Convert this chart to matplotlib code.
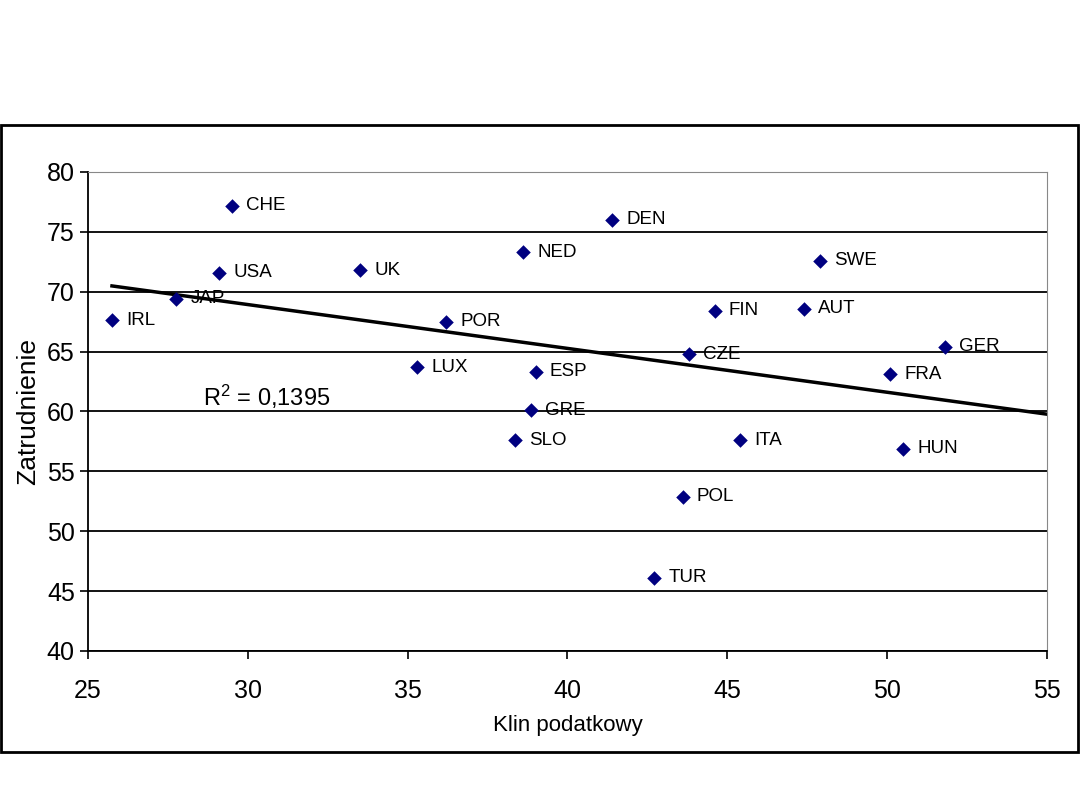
import numpy as np
import matplotlib.pyplot as plt
from matplotlib.patches import Rectangle

plt.rcParams['font.family'] = ['Liberation Sans', 'DejaVu Sans']

# country codes, tax wedge (x) and employment rate (y)
countries = ['CHE', 'USA', 'JAP', 'IRL', 'UK', 'POR', 'LUX', 'NED', 'DEN', 'ESP', 'GRE',
             'SLO', 'FIN', 'CZE', 'AUT', 'SWE', 'GER', 'FRA', 'HUN', 'ITA', 'POL', 'TUR']
klin = [29.5, 29.1, 27.75, 25.75, 33.5, 36.2, 35.3, 38.6, 41.4, 39.0, 38.85,
        38.35, 44.6, 43.8, 47.4, 47.9, 51.8, 50.1, 50.5, 45.4, 43.6, 42.7]
zatr = [77.2, 71.6, 69.4, 67.6, 71.8, 67.5, 63.7, 73.3, 76.0, 63.3, 60.1,
        57.6, 68.4, 64.8, 68.6, 72.6, 65.4, 63.1, 56.9, 57.6, 52.9, 46.1]

fig = plt.figure(figsize=(10.8, 8.1), dpi=100)
fig.patches.append(Rectangle((0.001, 1 - 752 / 810), 0.997, (752 - 125) / 810,
                             transform=fig.transFigure, fill=False,
                             edgecolor='black', linewidth=2))

ax = fig.add_axes([88 / 1080, 1 - 651 / 810, (1047 - 88) / 1080, (651 - 172) / 810])

ax.scatter(klin, zatr, marker='D', s=55, color='#000080', zorder=3, linewidths=0)
for c, x, y in zip(countries, klin, zatr):
    ax.text(x + 0.45, y, c, fontsize=13.5, va='center', ha='left', color='black', zorder=4)

# linear trend
a, b = np.polyfit(klin, zatr, 1)
xs = np.array([min(klin), 55])
ax.plot(xs, a * xs + b, color='black', lw=2.5, zorder=2)
ax.text(28.6, 60.5, '$\\mathregular{R^2}$ = 0,1395', fontsize=17)

ax.set_xlim(25, 55)
ax.set_ylim(40, 80)
ax.set_xticks(range(25, 56, 5))
ax.set_yticks(range(40, 81, 5))
ax.yaxis.grid(True, color='black', lw=1.3)
ax.set_axisbelow(True)
ax.tick_params(axis='both', labelsize=18, direction='out', length=6, width=1.2, color='black')
ax.tick_params(axis='x', pad=14)
for s in ['top', 'right']:
    ax.spines[s].set_color('#888888')
for s in ['left', 'bottom']:
    ax.spines[s].set_linewidth(1.3)

ax.set_xlabel('Klin podatkowy', fontsize=16, labelpad=9)
ax.set_ylabel('Zatrudnienie', fontsize=19, labelpad=5)

fig.savefig('out.png', dpi=100)
